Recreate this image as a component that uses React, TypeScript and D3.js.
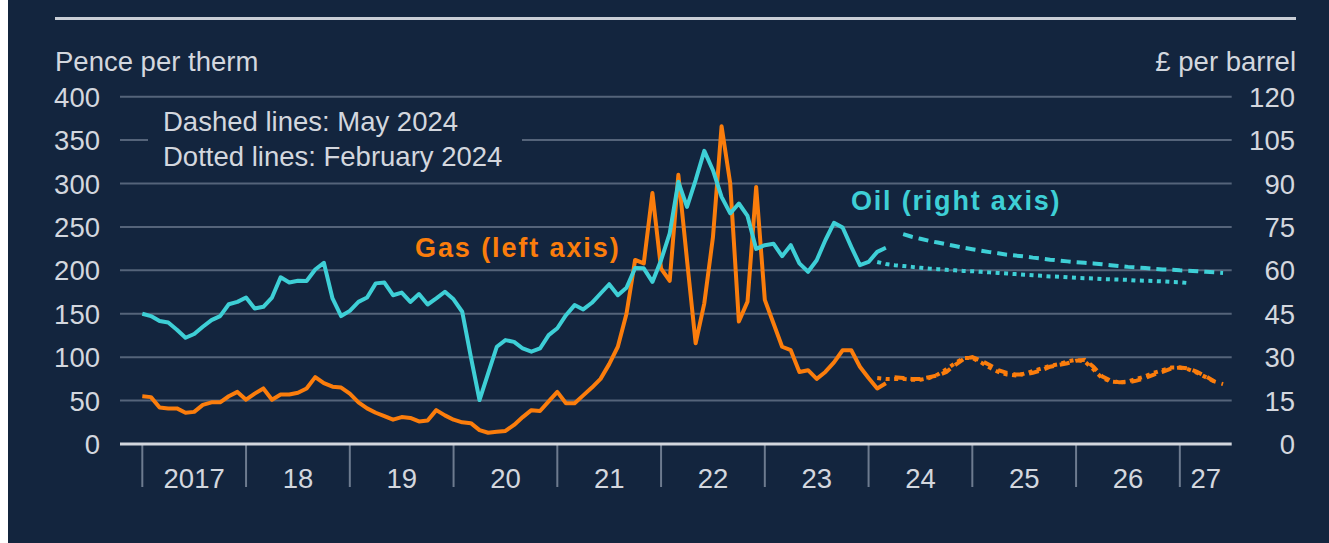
import React from "react";
import * as d3 from "d3";

// Monthly data, Jan 2017 .. Mar 2024
const startYear = 2017;
const gasActual = [
  55, 54, 42, 41, 41, 36, 37, 45, 48, 48, 55, 60,
  51, 58, 64, 51, 57, 57, 59, 64, 77, 70, 66, 65,
  58, 48, 41, 36, 32, 28, 31, 30, 26, 27, 39, 33,
  28, 25, 24, 16, 13, 14, 15, 22, 31, 39, 38, 49,
  60, 47, 47, 56, 65, 75, 92, 112, 150, 212, 208, 289,
  202, 188, 310, 212, 116, 162, 238, 366, 300, 141, 164, 296,
  166, 139, 112, 108, 83, 85, 75, 83, 94, 108, 108, 89,
  76, 64, 70,
];
const oilActual = [
  45, 44.2, 42.5, 42, 39.5, 36.7, 38, 40.5, 42.8, 44.2, 48.3, 49.1,
  50.6, 46.8, 47.4, 50.6, 57.6, 55.8, 56.4, 56.3, 60.3, 62.6, 50.3, 44.2,
  46, 49.1, 50.6, 55.5, 55.8, 51.4, 52.3, 49.1, 51.8, 48.2, 50.3, 52.6,
  50, 45.7, 30.1, 15.2, 24.4, 33.6, 35.9, 35.3, 33, 31.9, 33, 37.6,
  40, 44.5, 48, 46.5, 48.8, 52, 55.2, 51.4, 54, 60.8, 60.7, 56,
  63.5, 72.8, 90.6, 81.9, 91.2, 101.3, 94.6, 85.4, 79.7, 83.1, 78.8, 67.4,
  68.7, 69.2, 64.9, 68.7, 62.4, 59.5, 63.5, 70.4, 76.4, 74.8, 68.1, 61.8,
  62.9, 66.4, 67.8,
];
// Futures curves (month index from Jan 2017)
const gasMayStart = 87;
const gasMay = [
  77, 76, 75, 75, 77, 79, 83, 91, 98, 100, 96, 91, 85, 82, 80, 80, 82, 85, 89, 91,
  93, 96, 97, 89, 78, 73, 71, 71, 73, 76, 80, 83, 87, 88, 87, 83, 78, 72, 69,
];
const gasFebStart = 85;
const gasFeb = [
  76, 75, 75, 75, 74, 74, 76, 80, 86, 93, 99, 99, 94, 88, 83, 80, 79, 81, 84, 87,
  90, 92, 95, 97, 95, 86, 76, 72, 71, 72, 75, 78, 82, 85, 88, 88, 86, 82, 77, 72,
];
const oilMayStart = 88;
const oilMay = [
  72.5, 71.6, 70.9, 70.2, 69.6, 69.0, 68.4, 67.8, 67.3, 66.8, 66.3, 65.9, 65.4,
  65.1, 64.8, 64.4, 64.1, 63.7, 63.4, 63.1, 62.8, 62.6, 62.4, 62.1, 61.8, 61.5,
  61.2, 61.0, 60.8, 60.5, 60.3, 60.2, 60.0, 59.9, 59.7, 59.5, 59.3, 59.1,
];
const oilFebStart = 85;
const oilFeb = [
  62.9, 62.2, 61.8, 61.5, 61.2, 60.9, 60.6, 60.4, 60.2, 60.0, 59.8, 59.7, 59.5,
  59.3, 59.1, 58.9, 58.7, 58.5, 58.3, 58.1, 57.9, 57.8, 57.6, 57.4, 57.3, 57.2,
  57.0, 56.9, 56.8, 56.7, 56.5, 56.4, 56.3, 56.2, 56.0, 55.9, 55.6,
];
const yearTicks = [2017, 2018, 2019, 2020, 2021, 2022, 2023, 2024, 2025, 2026, 2027];
const yearLabels = ["2017", "18", "19", "20", "21", "22", "23", "24", "25", "26", "27"];
const leftTicks = [0, 50, 100, 150, 200, 250, 300, 350, 400];
const rightTicks = [0, 15, 30, 45, 60, 75, 90, 105, 120];

const BG = "#13253e";
const TXT = "#d3d7de";
const GRID = "#55647a";
const GAS = "#fb7d0c";
const OIL = "#3ecfd6";
const FONT = "'Liberation Sans', Arial, sans-serif";

export default function App() {
  const xDomain: [number, number] = [2016.785, 2027.5];
  const x = d3.scaleLinear().domain(xDomain).range([120, 1231.7]);
  const yL = d3.scaleLinear().domain([0, 400]).range([444, 96.7]);
  const yR = d3.scaleLinear().domain([0, 120]).range([444, 96.7]);
  const t = (i: number) => startYear + i / 12;

  const mk = (vals: number[], start: number, y: d3.ScaleLinear<number, number>) =>
    d3
      .line<number>()
      .x((_, i) => x(t(start + i)))
      .y((v) => y(v))(vals) || "";

  const [x0, x1] = xDomain;
  const gridL = leftTicks.filter((v) => v > 0);

  return (
    <svg
      width={1329}
      height={543}
      style={{ position: "absolute", left: 0, top: 0 }}
      fontFamily={FONT}
    >
      <rect x={8} y={0} width={1321} height={543} fill={BG} />
      <line x1={55} x2={1296} y1={18.5} y2={18.5} stroke="#c9ced6" strokeWidth={3} />
      <text x={55} y={71} fill={TXT} fontSize={27.5}>Pence per therm</text>
      <text x={1296} y={71} fill={TXT} fontSize={27.5} textAnchor="end">£ per barrel</text>

      {gridL.map((v) => (
        <line key={v} x1={x(x0)} x2={x(x1)} y1={yL(v)} y2={yL(v)} stroke={GRID} strokeWidth={2} />
      ))}
      {leftTicks.map((v) => (
        <text key={v} x={100} y={yL(v) + 10} fill={TXT} fontSize={27.5} textAnchor="end">{v}</text>
      ))}
      {rightTicks.map((v) => (
        <text key={v} x={1295} y={yR(v) + 10} fill={TXT} fontSize={27.5} textAnchor="end">{v}</text>
      ))}

      {/* legend box */}
      <rect x={148} y={104} width={374} height={68} fill={BG} />
      <text x={163} y={131} fill={TXT} fontSize={27.5}>Dashed lines: May 2024</text>
      <text x={163} y={166} fill={TXT} fontSize={27.5}>Dotted lines: February 2024</text>

      {/* x axis */}
      {yearTicks.map((yr) => (
        <line key={yr} x1={x(yr)} x2={x(yr)} y1={444} y2={487} stroke="#6d7b8f" strokeWidth={2} />
      ))}
      {yearLabels.map((lab, i) => {
        const a = yearTicks[i];
        const b = i + 1 < yearTicks.length ? yearTicks[i + 1] : x1;
        return (
          <text key={lab} x={(x(a) + x(b)) / 2} y={488} fill={TXT} fontSize={27.5} textAnchor="middle">{lab}</text>
        );
      })}

      {/* series */}
      <path d={mk(gasFeb, gasFebStart, yL)} fill="none" stroke={GAS} strokeWidth={4} strokeDasharray="4 4.5" />
      <path d={mk(gasMay, gasMayStart, yL)} fill="none" stroke={GAS} strokeWidth={4} strokeDasharray="10 6" />
      <path d={mk(oilFeb, oilFebStart, yR)} fill="none" stroke={OIL} strokeWidth={4} strokeDasharray="4 4.5" />
      <path d={mk(oilMay, oilMayStart, yR)} fill="none" stroke={OIL} strokeWidth={4} strokeDasharray="10 6" />
      <path d={mk(gasActual, 0, yL)} fill="none" stroke={GAS} strokeWidth={4} strokeLinejoin="round" />
      <path d={mk(oilActual, 0, yR)} fill="none" stroke={OIL} strokeWidth={4} strokeLinejoin="round" />

      <line x1={x(x0)} x2={x(x1)} y1={444} y2={444} stroke="#d3d7de" strokeWidth={3} />

      <text x={415} y={257} fill={GAS} fontSize={27} fontWeight="bold" letterSpacing={1.9}>Gas (left axis)</text>
      <text x={851} y={210} fill={OIL} fontSize={27} fontWeight="bold" letterSpacing={1.8}>Oil (right axis)</text>
    </svg>
  );
}
